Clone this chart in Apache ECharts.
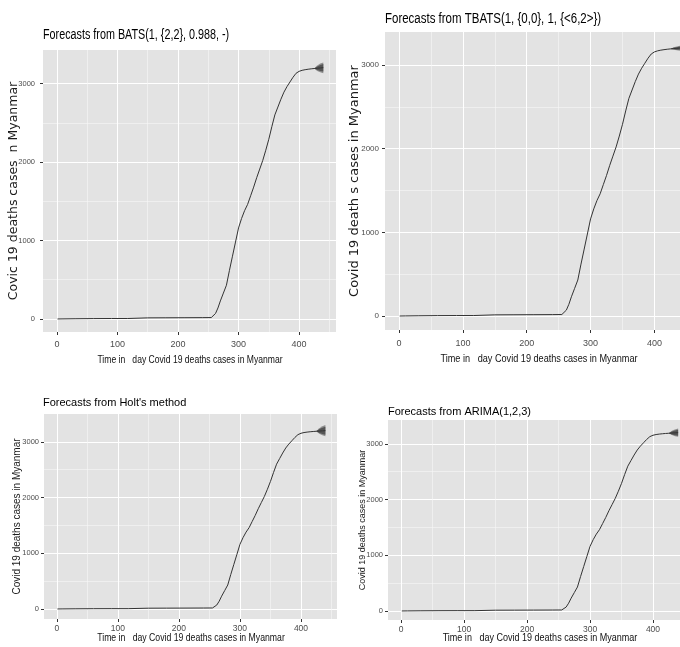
<!DOCTYPE html>
<html>
<head>
<meta charset="utf-8">
<script src="https://cdn.jsdelivr.net/npm/echarts@6/dist/echarts.min.js"></script>
<style>
  html, body { margin: 0; padding: 0; background: #ffffff; }
  #chart { width: 680px; height: 647px; }
</style>
</head>
<body>
<div id="chart"></div>
<script>
// Cumulative Covid-19 deaths in Myanmar (day index -> deaths)
const days = [1, 10, 30, 60, 90, 117, 118, 150, 180, 210, 240, 255, 258, 262, 266, 270, 275, 280, 285, 290,
  295, 300, 305, 310, 315, 320, 325, 330, 335, 340, 345, 350, 355, 360, 365, 370, 375, 380, 385, 390,
  395, 400, 405, 410, 415, 420, 425];
const deaths = [0, 1, 3, 5, 6, 6, 14, 14, 15, 16, 17, 18, 30, 70, 140, 230, 330, 430, 620, 800,
  980, 1160, 1280, 1380, 1460, 1570, 1680, 1800, 1910, 2020, 2150, 2290, 2450, 2600, 2700, 2800, 2890, 2960, 3020, 3080,
  3130, 3155, 3168, 3176, 3182, 3187, 3191];

// Forecast horizon and point forecasts
const fcDays = [425, 430, 435, 440];
const fcMean = [3191, 3195, 3198, 3202];

// Prediction intervals per model (80% and 95%)
const batsLo80 = [3191, 3172, 3160, 3152];
const batsHi80 = [3191, 3218, 3236, 3250];
const batsLo95 = [3191, 3160, 3142, 3132];
const batsHi95 = [3191, 3230, 3254, 3268];

const tbatsLo80 = [3191, 3186, 3182, 3180];
const tbatsHi80 = [3191, 3204, 3212, 3220];
const tbatsLo95 = [3191, 3180, 3175, 3170];
const tbatsHi95 = [3191, 3210, 3220, 3230];

const holtLo80 = [3191, 3160, 3142, 3130];
const holtHi80 = [3191, 3230, 3256, 3274];
const holtLo95 = [3191, 3145, 3118, 3100];
const holtHi95 = [3191, 3245, 3280, 3305];

const arimaLo80 = [3191, 3170, 3156, 3148];
const arimaHi80 = [3191, 3222, 3240, 3256];
const arimaLo95 = [3191, 3158, 3138, 3128];
const arimaHi95 = [3191, 3234, 3258, 3276];

// Tick values
const xTicks = [0, 100, 200, 300, 400];
const xMinor = [50, 150, 250, 350, 450];
const yTicks = [0, 1000, 2000, 3000];
const yMinor = [500, 1500, 2500];

const titles = [
  'Forecasts from BATS(1, {2,2}, 0.988, -)',
  'Forecasts from TBATS(1, {0,0}, 1, {<6,2>})',
  "Forecasts from Holt's method",
  'Forecasts from ARIMA(1,2,3)'
];
const xName = 'Time in   day Covid 19 deaths cases in Myanmar';
const yNames = [
  'Covic 19 deaths cases  n Myanmar',
  'Covid 19 death s cases in Myanmar',
  'Covid 19 deaths cases in Myanmar',
  'Covid 19 deaths cases in Myanmar'
];
const bands = [
  [batsLo80, batsHi80, batsLo95, batsHi95],
  [tbatsLo80, tbatsHi80, tbatsLo95, tbatsHi95],
  [holtLo80, holtHi80, holtLo95, holtHi95],
  [arimaLo80, arimaHi80, arimaLo95, arimaHi95]
];

const SANS = '"Liberation Sans", Arial, sans-serif';
const WIDE = '"DejaVu Sans", sans-serif';

// Panel layout and styling
const panels = [
  { grid: { left: 43, top: 50, width: 293, height: 282 }, x: [-23, 461], y: [-166, 3427],
    title: { x: 43, y: 35, size: 14, sx: 0.77 },
    xNm: { x: 190, y: 360, size: 11, sx: 0.78 },
    xLab: { size: 9, margin: 8 }, yLab: { size: 7.5, margin: 8 },
    yNm: { font: WIDE, size: 12.5, gap: 23 } },
  { grid: { left: 385, top: 32, width: 309, height: 298 }, x: [-22, 462], y: [-167, 3393],
    title: { x: 385, y: 19, size: 14, sx: 0.82 },
    xNm: { x: 539, y: 359, size: 11, sx: 0.83 },
    xLab: { size: 9, margin: 9 }, yLab: { size: 8, margin: 6 },
    yNm: { font: WIDE, size: 13, gap: 24 } },
  { grid: { left: 44, top: 414, width: 293, height: 205 }, x: [-21, 459], y: [-180, 3501],
    title: { x: 43, y: 403, size: 11, sx: 1 },
    xNm: { x: 191, y: 637.5, size: 11, sx: 0.79 },
    xLab: { size: 8.5, margin: 5 }, yLab: { size: 7.5, margin: 5 },
    yNm: { font: SANS, size: 10, gap: 22 } },
  { grid: { left: 388, top: 420, width: 304, height: 200 }, x: [-21, 462], y: [-162, 3429],
    title: { x: 388, y: 412, size: 11, sx: 1 },
    xNm: { x: 540, y: 638, size: 11, sx: 0.82 },
    xLab: { size: 8.5, margin: 5 }, yLab: { size: 7.5, margin: 5 },
    yNm: { font: SANS, size: 9, gap: 21 } }
];

const PANEL_BG = '#e3e3e3';
const TICK_COLOR = '#4d4d4d';
const plain = v => String(v);

const option = {
  animation: false,
  backgroundColor: '#ffffff',
  graphic: [], grid: [], xAxis: [], yAxis: [], series: []
};

panels.forEach((p, i) => {
  // panel title and horizontal axis title (condensed)
  option.graphic.push({
    type: 'text', x: p.title.x, y: p.title.y, scaleX: p.title.sx, silent: true,
    style: { text: titles[i], fontFamily: SANS, fontSize: p.title.size, fill: '#000000',
             align: 'left', verticalAlign: 'middle' }
  });
  option.graphic.push({
    type: 'text', x: p.xNm.x, y: p.xNm.y, scaleX: p.xNm.sx, silent: true,
    style: { text: xName, fontFamily: SANS, fontSize: p.xNm.size, fill: '#111111',
             align: 'center', verticalAlign: 'middle' }
  });

  option.grid.push(Object.assign({
    show: true, backgroundColor: PANEL_BG, borderWidth: 0, containLabel: false, outerBoundsMode: 'none'
  }, p.grid));

  // major x axis: ticks, labels, major grid lines
  option.xAxis.push({
    type: 'value', gridIndex: i, min: p.x[0], max: p.x[1], position: 'bottom',
    axisLine: { show: false, onZero: false },
    axisTick: { show: true, length: 3, customValues: xTicks, lineStyle: { color: '#333333', width: 1 } },
    axisLabel: { customValues: xTicks, formatter: plain, margin: p.xLab.margin, fontFamily: SANS,
                 fontSize: p.xLab.size, color: TICK_COLOR },
    splitLine: { show: true, lineStyle: { color: '#ffffff', width: 1 } }
  });
  // minor x grid lines
  option.xAxis.push({
    type: 'value', gridIndex: i, min: p.x[0], max: p.x[1], position: 'bottom',
    axisLine: { show: false, onZero: false },
    axisTick: { show: false, customValues: xMinor },
    axisLabel: { show: false, customValues: xMinor },
    splitLine: { show: true, lineStyle: { color: '#f7f7f7', width: 0.6 } }
  });
  // major y axis
  option.yAxis.push({
    type: 'value', gridIndex: i, min: p.y[0], max: p.y[1], position: 'left',
    name: yNames[i], nameLocation: 'middle', nameGap: p.yNm.gap, nameMoveOverlap: false,
    nameTextStyle: { fontFamily: p.yNm.font, fontSize: p.yNm.size, color: '#1a1a1a' },
    axisLine: { show: false, onZero: false },
    axisTick: { show: true, length: 3, customValues: yTicks, lineStyle: { color: '#333333', width: 1 } },
    axisLabel: { customValues: yTicks, formatter: plain, margin: p.yLab.margin, fontFamily: SANS,
                 fontSize: p.yLab.size, color: TICK_COLOR },
    splitLine: { show: true, lineStyle: { color: '#ffffff', width: 1 } }
  });
  // minor y grid lines
  option.yAxis.push({
    type: 'value', gridIndex: i, min: p.y[0], max: p.y[1], position: 'left',
    axisLine: { show: false, onZero: false },
    axisTick: { show: false, customValues: yMinor },
    axisLabel: { show: false, customValues: yMinor },
    splitLine: { show: true, lineStyle: { color: '#f7f7f7', width: 0.6 } }
  });

  const xi = i * 2, yi = i * 2;
  const b = bands[i];

  // prediction interval fans
  option.series.push({
    type: 'custom', xAxisIndex: xi, yAxisIndex: yi, clip: true, silent: true,
    data: [0],
    renderItem: function (params, api) {
      const poly = (lo, hi) => {
        const pts = [];
        for (let k = 0; k < fcDays.length; k++) pts.push(api.coord([fcDays[k], hi[k]]));
        for (let k = fcDays.length - 1; k >= 0; k--) pts.push(api.coord([fcDays[k], lo[k]]));
        return pts;
      };
      return {
        type: 'group',
        children: [
          { type: 'polygon', shape: { points: poly(b[2], b[3]) }, style: { fill: '#8f8f8f' } },
          { type: 'polygon', shape: { points: poly(b[0], b[1]) }, style: { fill: '#555555' } }
        ]
      };
    }
  });
  // observed series
  option.series.push({
    type: 'line', xAxisIndex: xi, yAxisIndex: yi, showSymbol: false, symbol: 'none',
    data: days.map((d, k) => [d, deaths[k]]),
    lineStyle: { color: '#333333', width: 1 }
  });
  // point forecast
  option.series.push({
    type: 'line', xAxisIndex: xi, yAxisIndex: yi, showSymbol: false, symbol: 'none',
    data: fcDays.map((d, k) => [d, fcMean[k]]),
    lineStyle: { color: '#333333', width: 1 }
  });
});

const chart = echarts.init(document.getElementById('chart'), null, { renderer: 'canvas' });
chart.setOption(option);
</script>
</body>
</html>
